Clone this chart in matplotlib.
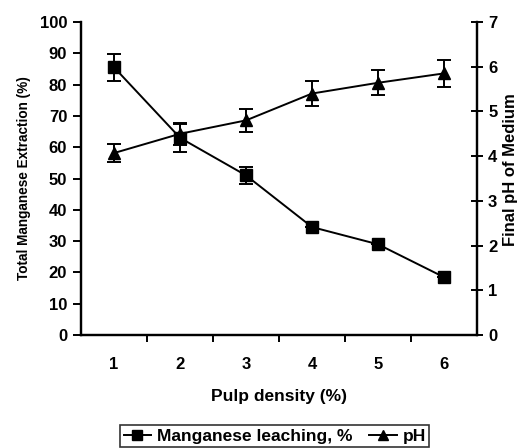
import matplotlib
matplotlib.use("Agg")
import matplotlib.pyplot as plt
from matplotlib.lines import Line2D
import numpy as np

plt.rcParams['font.family'] = ['Liberation Sans', 'DejaVu Sans']
plt.rcParams['font.weight'] = 'bold'

# pulp density categories
pulp_density = [1, 2, 3, 4, 5, 6]

# manganese extraction (%) and its error
mn_leach = [85.5, 63.0, 51.0, 34.5, 29.0, 18.5]
mn_err = [4.2, 4.5, 2.7, 0, 0, 0]

# final pH of the medium and its error
ph_final = [4.07, 4.5, 4.8, 5.4, 5.64, 5.85]
ph_err = [0.2, 0.25, 0.26, 0.27, 0.28, 0.3]

fig = plt.figure(figsize=(5.23, 4.48), dpi=100)
ax = fig.add_axes([0.155, 0.252, 0.757, 0.699])
ax2 = ax.twinx()

x = np.array(pulp_density)
ax.errorbar(x, mn_leach, yerr=mn_err, color='black', marker='s', markersize=8,
            linewidth=1.4, elinewidth=1.4, capsize=5, capthick=1.4)
ax2.errorbar(x, ph_final, yerr=ph_err, color='black', marker='^', markersize=8,
             linewidth=1.4, elinewidth=1.4, capsize=5, capthick=1.4)

ax.set_xlim(0.5, 6.5)
ax.set_ylim(0, 100)
ax2.set_ylim(0, 7)

# ticks between categories, labels at category centers
ax.set_xticks(np.arange(1.5, 6.5, 1))
ax.set_xticklabels([])
ax.set_xticks(x, minor=True)
ax.set_xticklabels([str(v) for v in pulp_density], minor=True)
ax.tick_params(axis='x', which='major', direction='out', length=5, width=1.4)
ax.tick_params(axis='x', which='minor', length=0, pad=16, labelsize=12)

ax.set_yticks(np.arange(0, 101, 10))
ax.tick_params(axis='y', direction='out', length=6, width=1.4, labelsize=12, pad=4)
ax2.set_yticks(np.arange(0, 8, 1))
ax2.tick_params(axis='y', direction='inout', length=9, width=1.4, labelsize=12)

for a in (ax, ax2):
    a.spines['top'].set_visible(False)
    for s in ('left', 'right', 'bottom'):
        a.spines[s].set_linewidth(1.6)

ax.set_ylabel('Total Manganese Extraction (%)', fontsize=9.8, fontweight='bold', labelpad=6)
ax2.set_ylabel('Final pH of Medium', fontsize=12, fontweight='bold')
ax2.yaxis.set_label_coords(1.065, 0.53)
ax.set_xlabel('Pulp density (%)', fontsize=12.5, fontweight='bold', labelpad=12)

# legend handles: line with marker, no error bars
h1 = Line2D([], [], color='black', marker='s', markersize=7, linewidth=1.4)
h2 = Line2D([], [], color='black', marker='^', markersize=7, linewidth=1.4)
leg = fig.legend([h1, h2], ['Manganese leaching, %', 'pH'], loc='center',
                 bbox_to_anchor=(0.525, 0.026), ncol=2, frameon=True, fancybox=False,
                 edgecolor='black', handlelength=1.6, handletextpad=0.3,
                 columnspacing=1.0, borderpad=0.2,
                 prop={'weight': 'bold', 'size': 12.5})
leg.get_frame().set_linewidth(1.2)

fig.savefig('out.png', dpi=100)
